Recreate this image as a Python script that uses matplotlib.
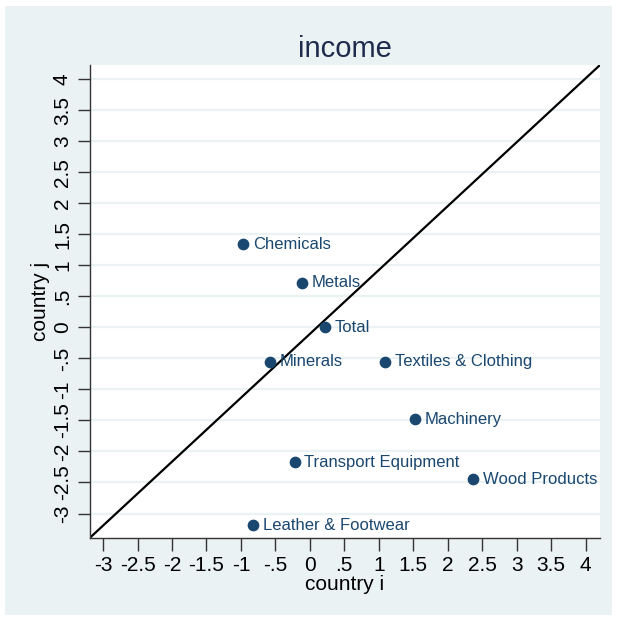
import matplotlib.pyplot as plt
from matplotlib.patches import Rectangle

plt.rcParams['font.family'] = ['Liberation Sans', 'DejaVu Sans']

# sector values
sectors = ["Chemicals", "Metals", "Total", "Minerals", "Textiles & Clothing",
           "Machinery", "Transport Equipment", "Wood Products", "Leather & Footwear"]
country_i = [-0.97, -0.12, 0.22, -0.58, 1.09, 1.52, -0.22, 2.37, -0.82]
country_j = [1.34, 0.72, 0.0, -0.55, -0.55, -1.48, -2.17, -2.45, -3.19]

# 45 degree reference line, corner to corner
line_x = [-3.19, 4.21]
line_y = [-3.39, 4.23]

ticks = [-3, -2.5, -2, -1.5, -1, -0.5, 0, 0.5, 1, 1.5, 2, 2.5, 3, 3.5, 4]
tick_labels = ["-3", "-2.5", "-2", "-1.5", "-1", "-.5", "0", ".5", "1", "1.5",
               "2", "2.5", "3", "3.5", "4"]

bg = '#eaf2f3'
navy = '#1a476f'

fig = plt.figure(figsize=(6.17, 6.21), dpi=100)
fig.patch.set_facecolor('white')
fig.patches.append(Rectangle((5 / 617, 1 - 615 / 621), 607 / 617, 609 / 621,
                             transform=fig.transFigure, facecolor=bg,
                             edgecolor='none', zorder=-10))

ax = fig.add_axes([90 / 617, 1 - 537.7 / 621, 510 / 617, 472.7 / 621])
ax.set_facecolor('white')
ax.set_xlim(line_x[0], line_x[1])
ax.set_ylim(line_y[0], line_y[1])

ax.set_yticks(ticks)
ax.set_yticklabels(tick_labels, rotation=90, va='center')
ax.set_xticks(ticks)
ax.set_xticklabels(tick_labels)
ax.tick_params(labelsize=15, length=9, width=1, color='#333333', pad=4)
ax.grid(axis='y', color=bg, linewidth=1.6)
ax.set_axisbelow(True)

for s in ['top', 'right']:
    ax.spines[s].set_visible(False)
for s in ['left', 'bottom']:
    ax.spines[s].set_color('#333333')
    ax.spines[s].set_linewidth(1)

ax.plot(line_x, line_y, color='black', linewidth=1.6, zorder=2)
ax.scatter(country_i, country_j, s=55, color=navy, zorder=3, clip_on=False)
for name, x, y in zip(sectors, country_i, country_j):
    ax.annotate(name, (x, y), xytext=(7, 0), textcoords='offset points',
                va='center', ha='left', fontsize=12, color=navy, zorder=4)

ax.set_xlabel('country i', fontsize=15, labelpad=0)
ax.set_ylabel('country j', fontsize=15, labelpad=2)
ax.set_title('income', fontsize=21, color='#1e2b4d', pad=6)

fig.savefig('out.png', dpi=100)
